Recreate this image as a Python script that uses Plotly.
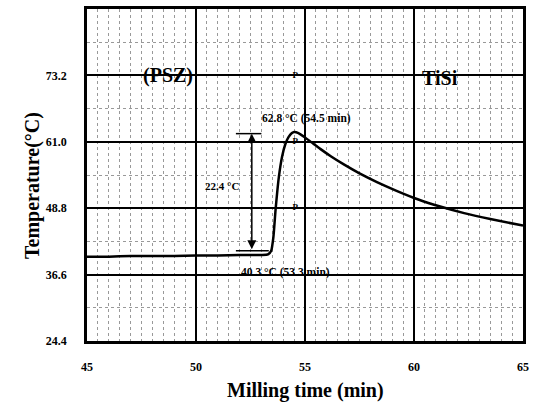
import plotly.graph_objects as go

# Data
time_min = [45, 46, 47, 48, 49, 50, 51, 52, 53, 53.3, 53.45, 53.55, 53.65, 53.8, 53.95,
            54.1, 54.25, 54.4, 54.5, 54.7, 55.0, 55.3, 55.7, 56.2, 56.8, 57.5, 58.3,
            59.2, 60.2, 61.2, 62.3, 63.5, 65]
temp_c = [39.9, 39.9, 40.0, 40.0, 40.0, 40.1, 40.1, 40.2, 40.2, 40.3, 41.0, 43.5, 48.5,
          54.5, 58.3, 60.6, 61.9, 62.6, 62.8, 62.6, 61.8, 60.9, 59.7, 58.3, 56.8, 55.2,
          53.6, 52.0, 50.4, 49.1, 47.9, 46.8, 45.6]

x_ticks = [45, 50, 55, 60, 65]
x_tick_text = ["45", "50", "55", "60", "65"]
y_ticks = [24.4, 36.6, 48.8, 61.0, 73.2]
y_tick_text = ["24.4", "36.6", "48.8", "61.0", "73.2"]

# Annotation data
region_labels = ["(PSZ)", "TiSi"]
region_x = [48.7, 61.2]
region_y = [73.2, 72.8]

peak_label = "62.8 °C (54.5 min)"
peak_pos = (55.07, 65.3)
start_label = "40.3 °C (53.3 min)"
start_pos = (54.1, 37.0)
delta_label = "22.4 °C"
delta_pos = (52.05, 52.9)

arrow_x = 52.56
arrow_top = 62.5
arrow_bottom = 41.0
bracket_top = (51.83, 53.0)
bracket_bottom = (51.83, 53.34)

marker_t = [54.55, 54.55, 54.55]
marker_T = [73.2, 61.0, 48.8]

FONT = "Liberation Serif"


def b(s):
    return "<b>" + s + "</b>"


fig = go.Figure()
fig.add_trace(go.Scatter(
    x=time_min, y=temp_c, mode="lines",
    line=dict(color="black", width=2.5, shape="spline", smoothing=0.5),
    showlegend=False, hoverinfo="skip"))

fig.add_trace(go.Scatter(
    x=marker_t, y=marker_T, mode="text", text=[b("P")] * 3,
    textfont=dict(family=FONT, size=9, color="black"),
    showlegend=False, hoverinfo="skip"))

annotations = []
for lab, xx, yy in zip(region_labels, region_x, region_y):
    annotations.append(dict(x=xx, y=yy, xref="x", yref="y", text=b(lab), showarrow=False,
                            font=dict(family=FONT, size=20, color="black")))
annotations.append(dict(x=peak_pos[0], y=peak_pos[1], xref="x", yref="y", text=b(peak_label),
                        showarrow=False, font=dict(family=FONT, size=11.5, color="black")))
annotations.append(dict(x=start_pos[0], y=start_pos[1], xref="x", yref="y", text=b(start_label),
                        showarrow=False, font=dict(family=FONT, size=11.5, color="black")))
annotations.append(dict(x=delta_pos[0], y=delta_pos[1], xref="x", yref="y", text=b(delta_label),
                        xanchor="right", showarrow=False,
                        font=dict(family=FONT, size=11, color="black")))
annotations.append(dict(x=arrow_x, y=arrow_top, ax=arrow_x, ay=arrow_bottom,
                        xref="x", yref="y", axref="x", ayref="y", text="",
                        showarrow=True, arrowhead=2, arrowside="end+start",
                        arrowsize=1.2, arrowwidth=1.5, arrowcolor="black"))
# axis titles
annotations.append(dict(x=0.5, y=0, xref="paper", yref="paper", yanchor="top", yshift=-36,
                        text=b("Milling time (min)"), showarrow=False,
                        font=dict(family=FONT, size=20, color="black")))
annotations.append(dict(x=0, y=0.467, xref="paper", yref="paper", xanchor="center",
                        xshift=-54, textangle=-90,
                        text=b("Temperature(°C)"), showarrow=False,
                        font=dict(family=FONT, size=20, color="black")))

shapes = [
    dict(type="line", xref="x", yref="y", x0=bracket_top[0], x1=bracket_top[1],
         y0=arrow_top, y1=arrow_top, line=dict(color="black", width=1.5)),
    dict(type="line", xref="x", yref="y", x0=bracket_bottom[0], x1=bracket_bottom[1],
         y0=arrow_bottom, y1=arrow_bottom, line=dict(color="black", width=1.5)),
]

fig.update_layout(
    width=535, height=414,
    margin=dict(l=87, r=8, t=6, b=73),
    paper_bgcolor="white", plot_bgcolor="white",
    font=dict(family=FONT, color="black"),
    annotations=annotations, shapes=shapes,
    xaxis=dict(range=[45, 65], tickvals=x_ticks, ticktext=[b(t) for t in x_tick_text],
               ticks="",
               showgrid=True, gridcolor="black", gridwidth=1.5,
               showline=True, linecolor="black", linewidth=2.5, mirror=True,
               zeroline=False, ticklabelstandoff=13,
               tickfont=dict(family=FONT, size=12, color="black"),
               minor=dict(dtick=0.5, showgrid=True, gridcolor="#999999",
                          griddash="dot", gridwidth=1)),
    yaxis=dict(range=[24.4, 85.4], tickvals=y_ticks, ticktext=[b(t) for t in y_tick_text],
               ticks="",
               showgrid=True, gridcolor="black", gridwidth=1.5,
               showline=True, linecolor="black", linewidth=2.5, mirror=True,
               zeroline=False, ticklabelstandoff=15,
               tickfont=dict(family=FONT, size=12, color="black"),
               minor=dict(dtick=6.1, showgrid=True, gridcolor="#999999",
                          griddash="dot", gridwidth=1)),
)

fig.write_html("out.html")
